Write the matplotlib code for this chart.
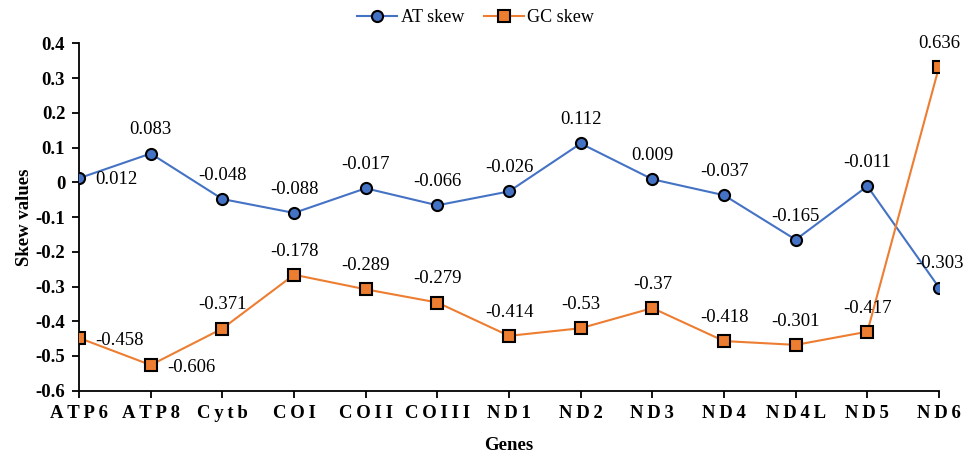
import matplotlib
matplotlib.use('Agg')
import matplotlib.pyplot as plt

genes = ['ATP6', 'ATP8', 'Cytb', 'COI', 'COII', 'COIII', 'ND1', 'ND2',
         'ND3', 'ND4', 'ND4L', 'ND5', 'ND6']

# plotted positions
at_skew = [0.012, 0.083, -0.048, -0.088, -0.017, -0.066, -0.026, 0.112,
           0.009, -0.037, -0.165, -0.011, -0.303]
gc_skew = [-0.448, -0.526, -0.421, -0.266, -0.308, -0.346, -0.442, -0.420,
           -0.362, -0.457, -0.468, -0.430, 0.333]

# data labels as printed on the chart
at_labels = ['0.012', '0.083', '-0.048', '-0.088', '-0.017', '-0.066', '-0.026',
             '0.112', '0.009', '-0.037', '-0.165', '-0.011', '-0.303']
gc_labels = ['-0.458', '-0.606', '-0.371', '-0.178', '-0.289', '-0.279', '-0.414',
             '-0.53', '-0.37', '-0.418', '-0.301', '-0.417', '0.636']

plt.rcParams['font.family'] = ['Liberation Serif', 'DejaVu Serif']

fig = plt.figure(figsize=(9.71, 4.55), dpi=100)
ax = fig.add_axes([0.0814, 0.1413, 0.8857, 0.7631])

x = list(range(len(genes)))
ax.plot(x, at_skew, color='#4472C4', lw=1.5, marker='o', ms=8,
        mfc='#4472C4', mec='black', mew=1.5, label='AT skew', zorder=3)
ax.plot(x, gc_skew, color='#ED7D31', lw=1.5, marker='s', ms=8,
        mfc='#ED7D31', mec='black', mew=1.5, label='GC skew', zorder=3)

fs = 13.5
for i in x:
    if i == 0:
        ax.annotate(at_labels[i], (i, at_skew[i]), xytext=(12, -1),
                    textcoords='offset points', ha='left', va='center', fontsize=fs)
    else:
        ax.annotate(at_labels[i], (i, at_skew[i]), xytext=(0, 17),
                    textcoords='offset points', ha='center', va='center', fontsize=fs)
    if i in (0, 1):
        ax.annotate(gc_labels[i], (i, gc_skew[i]), xytext=(12, -1.5),
                    textcoords='offset points', ha='left', va='center', fontsize=fs)
    else:
        ax.annotate(gc_labels[i], (i, gc_skew[i]), xytext=(0, 17),
                    textcoords='offset points', ha='center', va='center', fontsize=fs)

ax.set_xlim(0, len(genes) - 1)
ax.set_ylim(-0.6, 0.4)
ax.set_yticks([0.4, 0.3, 0.2, 0.1, 0, -0.1, -0.2, -0.3, -0.4, -0.5, -0.6])
ax.set_yticklabels(['0.4', '0.3', '0.2', '0.1', '0', '-0.1', '-0.2', '-0.3',
                    '-0.4', '-0.5', '-0.6'], fontweight='bold', fontsize=13.5)
ax.set_xticks(x)
ax.set_xticklabels(['\u2009'.join(g) for g in genes], fontweight='bold', fontsize=13.5)

for s in ['top', 'right']:
    ax.spines[s].set_visible(False)
for s in ['left', 'bottom']:
    ax.spines[s].set_color('black')
    ax.spines[s].set_linewidth(1.3)
ax.tick_params(direction='out', length=5, width=1.3, colors='black')
ax.tick_params(axis='x', pad=5)
ax.tick_params(axis='y', pad=5)

ax.set_xlabel('Genes', fontweight='bold', fontsize=13.5, labelpad=11)
ax.set_ylabel('Skew values', fontweight='bold', fontsize=13.5, labelpad=2)

fig.legend(loc='upper center', bbox_to_anchor=(0.49, 1.015), ncol=2, frameon=False,
           fontsize=13, handlelength=2.2, handletextpad=0.2, columnspacing=1.1)

plt.savefig('out.png', dpi=100)
plt.close()
